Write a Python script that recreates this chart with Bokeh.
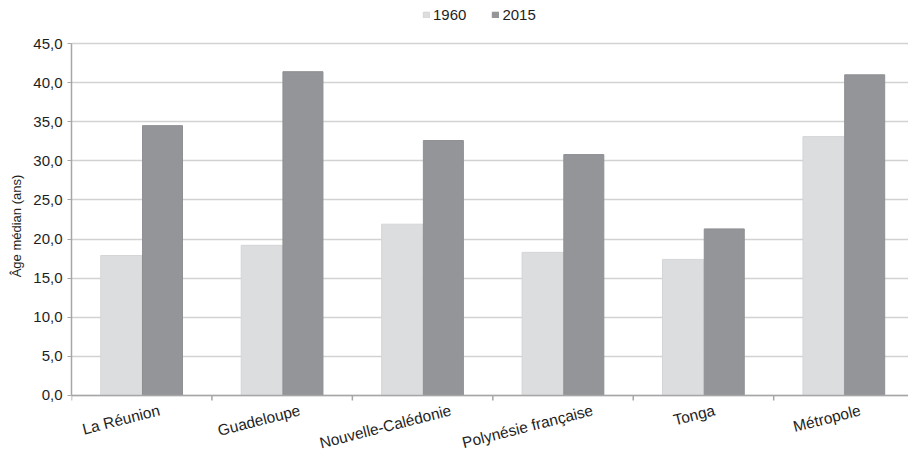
import math
from bokeh.plotting import figure
from bokeh.models import (ColumnDataSource, Legend, LegendItem, CustomJSTickFormatter,
                          FixedTicker, Range1d, Title, Span)
from bokeh.core.properties import value
from bokeh.transform import dodge
from bokeh.embed import file_html
from bokeh.resources import INLINE

categories = ["La Réunion", "Guadeloupe", "Nouvelle-Calédonie", "Polynésie française", "Tonga", "Métropole"]
v1960 = [17.9, 19.2, 21.9, 18.3, 17.4, 33.1]
v2015 = [34.5, 41.4, 32.6, 30.8, 21.3, 41.0]
series_names = ["1960", "2015"]
y_ticks = [0, 5, 10, 15, 20, 25, 30, 35, 40, 45]
y_title = "Âge médian (ans)"

FONT = "Liberation Sans"
LIGHT = "#dcdddf"
DARK = "#939598"
TXT = "#1e1e1e"
AX = "#a6a6a6"

n = len(categories)
centers = [i + 0.5 for i in range(n)]
src = ColumnDataSource(dict(x=centers, cat=categories, a=v1960, b=v2015))

p = figure(x_range=Range1d(0, n - 0.04), y_range=Range1d(-7.16, 50.5), width=908, height=451,
           output_backend="svg", toolbar_location=None, x_axis_location=None,
           min_border_left=70, min_border_right=0, min_border_bottom=0, min_border_top=0)

r1 = p.vbar(x=dodge("x", -0.145), top="a", width=0.293, source=src,
            fill_color=LIGHT, line_color="#d4d5d7")
r2 = p.vbar(x=dodge("x", 0.148), top="b", width=0.285, source=src,
            fill_color=DARK, line_color="#8e9093")

# category axis drawn by hand: baseline, boundary ticks and slanted labels
p.add_layout(Span(location=0, dimension="width", line_color=AX, line_width=1.5))
bounds_ticks = list(range(n + 1))
p.ray(x=bounds_ticks, y=[0] * len(bounds_ticks), length=5, length_units="screen",
      angle=-math.pi / 2, line_color=AX, line_width=1.5)
label_pos = [c + 0.017 + 0.0094 * len(name) for c, name in zip(centers, categories)]
lab_src = ColumnDataSource(dict(x=label_pos, y=[0] * n, t=categories))
p.text(x="x", y="y", text="t", source=lab_src, angle=0.25,
       text_align="right", text_baseline="top", y_offset=6,
       text_font=value(FONT), text_font_size="15.5px", text_color=TXT)

legend = Legend(items=[LegendItem(label=series_names[0], renderers=[r1]),
                       LegendItem(label=series_names[1], renderers=[r2])],
                orientation="horizontal", location=(351, 428))
legend.label_text_font = FONT
legend.label_text_font_size = "15px"
legend.label_text_color = TXT
legend.glyph_width = 8
legend.glyph_height = 7
legend.label_standoff = 3
legend.spacing = 25
legend.padding = 0
legend.margin = 0
legend.border_line_color = None
legend.background_fill_alpha = 0
legend.label_height = 15
p.add_layout(legend, "center")

p.outline_line_color = None
p.xgrid.grid_line_color = None
p.ygrid.grid_line_color = "#d2d2d2"
p.ygrid.grid_line_width = 1.5
p.ygrid.bounds = (0, 45)

ytitle = Title(text=y_title, align="center", standoff=13,
               text_font=FONT, text_font_size="13px", text_font_style="normal",
               text_color=TXT)
p.add_layout(ytitle, "left")

p.yaxis.ticker = FixedTicker(ticks=y_ticks)
p.yaxis.bounds = (0, 45)
p.yaxis.formatter = CustomJSTickFormatter(code="return tick.toFixed(1).replace('.', ',');")
p.yaxis.major_label_text_font = FONT
p.yaxis.major_label_text_font_size = "15px"
p.yaxis.major_label_text_color = TXT
p.yaxis.major_label_standoff = 5
p.yaxis.minor_tick_line_color = None
p.yaxis.major_tick_out = 4
p.yaxis.major_tick_in = 0
p.yaxis.major_tick_line_color = AX
p.yaxis.axis_line_color = AX
p.yaxis.axis_line_width = 1.5

open("out.html", "w").write(file_html(p, INLINE))
